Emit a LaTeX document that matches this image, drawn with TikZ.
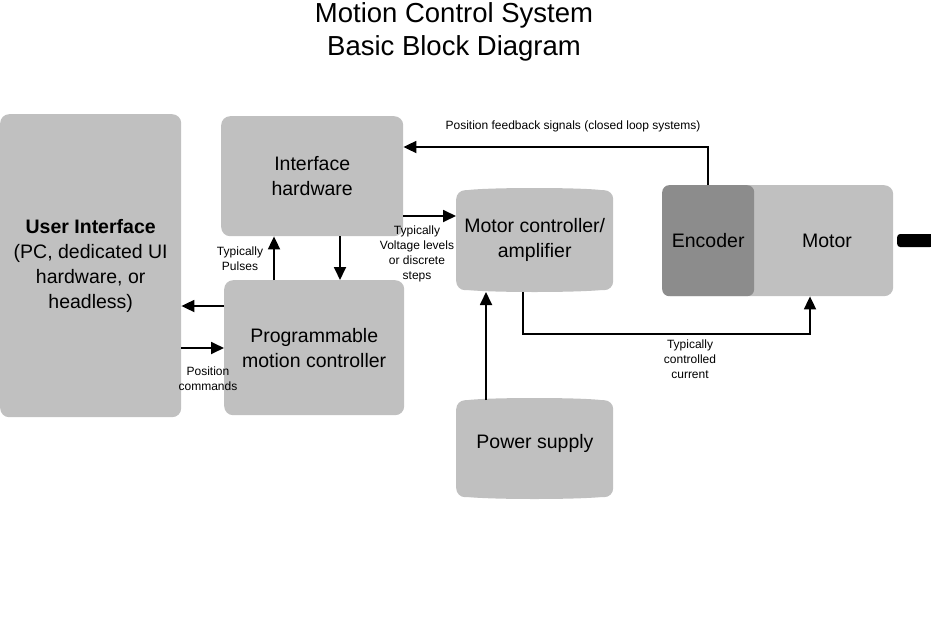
\documentclass[tikz,border=0pt]{standalone}
\usepackage{fontspec}
\setmainfont{Liberation Sans}
\usetikzlibrary{arrows.meta}
\definecolor{boxgray}{HTML}{C0C0C0}
\definecolor{encgray}{HTML}{8C8C8C}
\begin{document}
\begin{tikzpicture}[x=1pt,y=-1pt,
  blk/.style={fill=boxgray,draw=none,rounded corners=9pt,inner sep=0pt,align=center,font=\fontsize{19.5}{25}\selectfont},
  lbl/.style={font=\fontsize{12}{15}\selectfont,align=center,inner sep=0pt},
  conn/.style={line width=1.8pt,-{Triangle[length=13pt,width=12pt]}}]
\useasboundingbox (0,0) rectangle (931,626);
% title
\node[font=\fontsize{27.5}{33}\selectfont,align=center] (title) at (454,31.5) {Motion Control System\\Basic Block Diagram};
% blocks
\node[blk,minimum width=181pt,minimum height=303pt,anchor=north west] (ui) at (0,114)
  {\textbf{User Interface}\\(PC, dedicated UI\\hardware, or\\headless)};
\node[blk,minimum width=182pt,minimum height=120pt,anchor=north west] (ih) at (221,116) {Interface\\hardware};
\node[blk,minimum width=180pt,minimum height=135pt,anchor=north west] (pmc) at (224,280) {Programmable\\motion controller};
\fill[boxgray] (534.5,191) ellipse (70pt and 3pt);
\fill[boxgray] (534.5,289) ellipse (70pt and 3pt);
\node[blk,minimum width=157pt,minimum height=100pt,anchor=north west] (mc) at (456,190) {Motor controller/\\amplifier};
\fill[boxgray] (534.5,401) ellipse (70pt and 3pt);
\fill[boxgray] (534.5,496) ellipse (70pt and 3pt);
\node[blk,minimum width=157pt,minimum height=97pt,anchor=north west] (ps) at (456,400) {};
\node[blk,fill=none] (psl) at (535,443) {Power supply};
\node[blk,minimum width=231pt,minimum height=111pt,anchor=north west] (mot) at (662,185) {};
\node[blk,fill=none] (motl) at (827,241) {Motor};
\node[blk,fill=encgray,rounded corners=7pt,minimum width=92pt,minimum height=111pt,anchor=north west] (enc) at (662,185) {Encoder};
\node[fill=black,rounded corners=3pt,minimum width=36pt,minimum height=13pt,inner sep=0pt,anchor=west] (shaft) at (897,240.5) {};
% connectors
\coordinate (fb1) at (708,147);
\draw[conn] (enc.north -| fb1) -- (fb1) -- (fb1 -| ih.east);
\node[lbl] (fbl) at (573,126) {Position feedback signals (closed loop systems)};
\draw[conn] (ih.east |- 0,216) -- (mc.west |- 0,216);
\node[lbl] (vl) at (417,254) {Typically\\Voltage levels\\or discrete\\steps};
\draw[conn] (pmc.north -| 274,0) -- (ih.south -| 274,0);
\node[lbl] (pl) at (240,259) {Typically\\Pulses};
\draw[conn] (ih.south -| 340,0) -- (pmc.north -| 340,0);
\draw[conn] (pmc.west |- 0,306) -- (ui.east |- 0,306);
\draw[conn] (ui.east |- 0,348) -- (pmc.west |- 0,348);
\node[lbl] (pcl) at (208,379) {Position\\commands};
\draw[conn] (ps.north -| 486,0) -- (486,292);
\coordinate (cc1) at (523,334);
\coordinate (cc2) at (810,334);
\draw[conn] (523,292) -- (cc1) -- (cc2) -- (cc2 |- mot.south);
\node[lbl] (ccl) at (690,359) {Typically\\controlled\\current};
\end{tikzpicture}
\end{document}
